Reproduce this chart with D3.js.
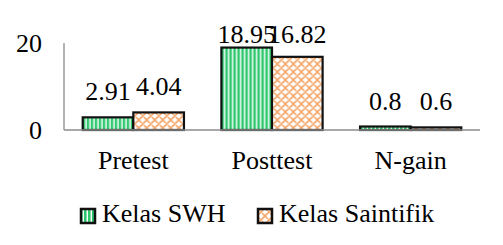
<!DOCTYPE html>
<html lang="en">
<head>
    <meta charset="UTF-8">
    <title>Kelas SWH vs Saintifik</title>
    <style>
        body { margin: 0; background: #fff; }
    </style>
</head>
<body>
    <script src="https://d3js.org/d3.v7.min.js"></script>
    <script>

        // data
        const categories = ["Pretest", "Posttest", "N-gain"];
        const seriesNames = ["Kelas SWH", "Kelas Saintifik"];
        const swh = [2.91, 18.95, 0.8];
        const saintifik = [4.04, 16.82, 0.6];
        const yTicks = [0, 20];

        const width = 503, height = 245;
        const margin = { left: 64, right: 23, top: 43, bottom: 115 };
        const fs = 26;

        const svg = d3.select("body").append("svg")
            .attr("width", width)
            .attr("height", height)
            .style("font-family", '"Liberation Serif", "Times New Roman", serif');

        // patterns
        const defs = svg.append("defs");
        const pGreen = defs.append("pattern")
            .attr("id", "stripes")
            .attr("patternUnits", "userSpaceOnUse")
            .attr("width", 4).attr("height", 4);
        pGreen.append("rect").attr("width", 4).attr("height", 4).attr("fill", "#fff");
        pGreen.append("rect").attr("width", 2.6).attr("height", 4).attr("fill", "#2fc86e");

        const pOrange = defs.append("pattern")
            .attr("id", "lattice")
            .attr("patternUnits", "userSpaceOnUse")
            .attr("width", 8).attr("height", 8);
        pOrange.append("rect").attr("width", 8).attr("height", 8).attr("fill", "#fff");
        pOrange.append("path")
            .attr("d", "M0,8 L8,0 M-2,2 L2,-2 M6,10 L10,6 M0,0 L3,3 M5,5 L8,8")
            .attr("stroke", "#f5a668")
            .attr("stroke-width", 1.6)
            .attr("fill", "none");

        const fills = ["url(#stripes)", "url(#lattice)"];

        // scales
        const x0 = d3.scaleBand()
            .domain(categories)
            .range([margin.left, width - margin.right])
            .paddingInner(0.27)
            .paddingOuter(0.135);

        const x1 = d3.scaleBand()
            .domain(seriesNames)
            .range([0, x0.bandwidth()]);

        const y = d3.scaleLinear()
            .domain([0, 20])
            .range([height - margin.bottom, margin.top]);

        const table = categories.map((c, i) => ({
            cat: c,
            vals: [
                { name: seriesNames[0], value: swh[i] },
                { name: seriesNames[1], value: saintifik[i] }
            ]
        }));

        // y axis line
        svg.append("line")
            .attr("x1", margin.left).attr("x2", margin.left)
            .attr("y1", y(20)).attr("y2", y(0))
            .attr("stroke", "#8c8c8c").attr("stroke-width", 1.3);

        // y tick labels
        svg.append("g")
            .attr("font-size", fs)
            .attr("text-anchor", "end")
            .selectAll("text")
            .data(yTicks)
            .join("text")
            .attr("x", margin.left - 22)
            .attr("y", d => y(d) + 9)
            .text(d => d);

        // bars
        const groups = svg.append("g")
            .selectAll("g")
            .data(table)
            .join("g")
            .attr("transform", d => `translate(${x0(d.cat)},0)`);

        groups.selectAll("rect")
            .data(d => d.vals)
            .join("rect")
            .attr("x", d => x1(d.name))
            .attr("y", d => y(d.value))
            .attr("width", x1.bandwidth())
            .attr("height", d => y(0) - y(d.value))
            .attr("fill", (d, i) => fills[i])
            .attr("stroke", "#111")
            .attr("stroke-width", 2.2);

        // value labels
        groups.selectAll("text")
            .data(d => d.vals)
            .join("text")
            .attr("font-size", fs)
            .attr("text-anchor", "middle")
            .attr("x", d => x1(d.name) + x1.bandwidth() / 2)
            .attr("y", d => Math.max(y(d.value) - 17, 43))
            .text(d => d.value);

        // x axis baseline
        svg.append("line")
            .attr("x1", margin.left).attr("x2", width - margin.right)
            .attr("y1", y(0)).attr("y2", y(0))
            .attr("stroke", "#8c8c8c").attr("stroke-width", 1.3);

        // category labels
        svg.append("g")
            .attr("font-size", fs)
            .attr("text-anchor", "middle")
            .selectAll("text")
            .data(categories)
            .join("text")
            .attr("x", d => x0(d) + x0.bandwidth() / 2)
            .attr("y", 169)
            .text(d => d);

        // legend
        const legendX = [80, 257];
        const legend = svg.append("g")
            .selectAll("g")
            .data(seriesNames)
            .join("g")
            .attr("transform", (d, i) => `translate(${legendX[i]},208)`);

        legend.append("rect")
            .attr("x", 1).attr("y", 1)
            .attr("width", 14).attr("height", 14)
            .attr("fill", (d, i) => fills[i])
            .attr("stroke", "#111")
            .attr("stroke-width", 2.5);

        legend.append("text")
            .attr("x", 22)
            .attr("y", 14)
            .attr("font-size", fs)
            .text(d => d);

    </script>
</body>
</html>
